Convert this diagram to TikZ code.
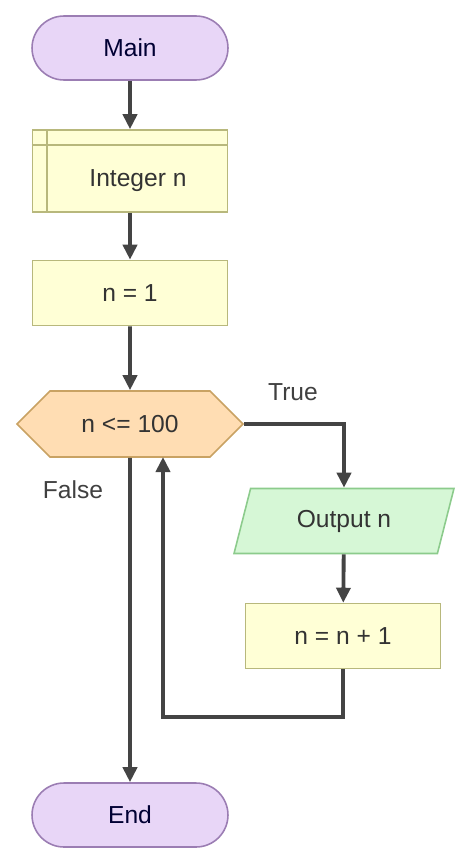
\documentclass[tikz,border=0pt]{standalone}
\usepackage{fontspec}
\setmainfont{Liberation Sans}
\usetikzlibrary{shapes.geometric,shapes.symbols,arrows.meta,positioning,calc}
\definecolor{termfill}{HTML}{E8D6F7}
\definecolor{termline}{HTML}{9B7DB3}
\definecolor{procfill}{HTML}{FFFFD6}
\definecolor{procline}{HTML}{B8B87C}
\definecolor{decfill}{HTML}{FFDDB3}
\definecolor{decline}{HTML}{C9A263}
\definecolor{iofill}{HTML}{D6F7D6}
\definecolor{ioline}{HTML}{8CCB8C}
\definecolor{arrowcol}{HTML}{444444}

\begin{document}
\begin{tikzpicture}[x=0.02cm, y=-0.02cm, font=\fontsize{14}{16}\selectfont]
% Define styles
\tikzstyle{terminal} = [rectangle, rounded corners=0.64cm, minimum width=3.92cm, minimum height=1.28cm, text centered, draw=termline, fill=termfill, line width=0.9pt, text=black!80!blue]
\tikzstyle{process} = [rectangle, minimum width=3.9cm, minimum height=1.3cm, text centered, draw=procline, fill=procfill, line width=0.9pt, text=black!80]
\tikzstyle{decision} = [signal, signal to=west and east, signal pointer angle=90, minimum width=4.52cm, minimum height=1.32cm, text centered, draw=decline, fill=decfill, line width=0.9pt, text=black!80]
\tikzstyle{io} = [trapezium, trapezium left angle=64, trapezium right angle=116, trapezium stretches body, minimum width=4.4cm, minimum height=1.3cm, text centered, draw=ioline, fill=iofill, line width=0.9pt, text=black!80]
\tikzstyle{arrow} = [line width=2.2pt, draw=arrowcol, -{Triangle[length=0.3cm, width=0.28cm]}]
\tikzstyle{flowlabel} = [text=black!75]

\useasboundingbox (0,0) rectangle (474,865);

% Place nodes
\node (main) [terminal] at (130,48) {Main};
\node (decl) [process, minimum height=1.64cm] at (130,171) {};
\node (decltext) [text=black!80] at (138,181) {Integer n};
\node (init) [process] at (130,293) {n = 1};
\node (cond) [decision] at (130,424) {n <= 100};
\node (out) [io] at (344,521) {Output n};
\node (inc) [process] at (343,636) {n = n + 1};
\node (end) [terminal] at (130,815) {End};
\coordinate (loopa) at (343,717);
\coordinate (loopb) at (163,717);
\coordinate (loopc) at (163,457);
\coordinate (truec) at (344,424);

% declaration box inner lines
\draw [procline, line width=0.9pt] ($(decl.north west)+(15,0)$) -- ($(decl.south west)+(15,0)$);
\draw [procline, line width=0.9pt] ($(decl.north west)+(0,16)$) -- ($(decl.north east)+(0,16)$);

% Draw arrows
\draw [arrow] (main) -- (decl);
\draw [arrow] (decl) -- (init);
\draw [arrow] (init) -- (cond);
\draw [arrow] (cond.east) -- (truec) -- (out);
\draw [arrow] (out) -- (inc);
\draw [arrow] (inc) -- (loopa) -- (loopb) -- (loopc);
\draw [arrow] (cond) -- (end);
\node [flowlabel] at (293,392) {True};
\node [flowlabel] at (73,490) {False};
\end{tikzpicture}
\end{document}
